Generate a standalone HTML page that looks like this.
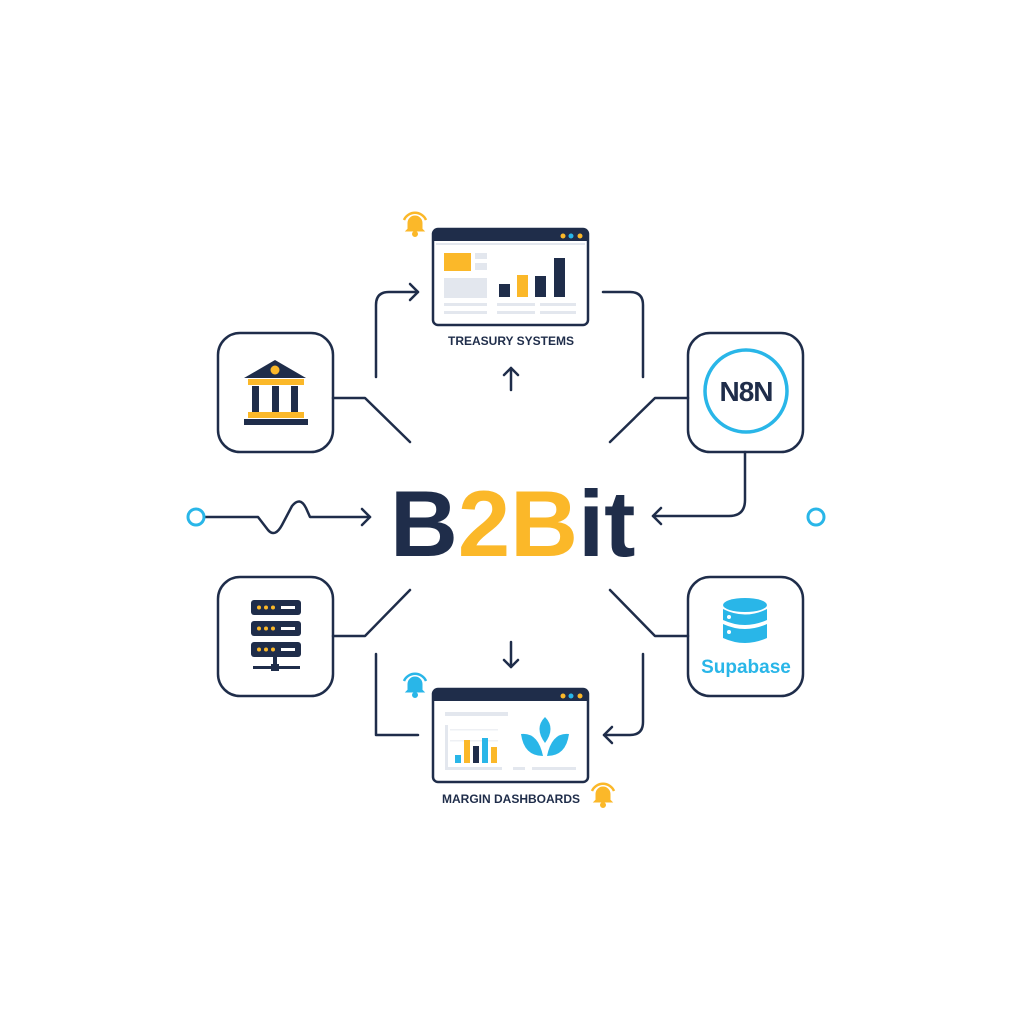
<!DOCTYPE html>
<html><head><meta charset="utf-8"><style>
html,body{margin:0;padding:0;background:#fff;}
svg{display:block;}
text{font-family:"Liberation Sans",sans-serif;}
</style></head><body>
<svg width="1024" height="1024" viewBox="0 0 1024 1024" xmlns="http://www.w3.org/2000/svg">
<rect width="1024" height="1024" fill="#fff"/>
<defs>
<g id="bell"><path d="M-7 5 L-7 -1 A7 7 0 0 1 7 -1 L7 5 L9 7 L-9 7 Z"/><circle cx="0" cy="10" r="2.5"/><path d="M-11 -4 A12 12 0 0 1 11 -4" fill="none" stroke-width="2.5"/></g>
</defs>
<g fill="none" stroke="#1f2d4a" stroke-width="2.5" stroke-linecap="round" stroke-linejoin="round">
<rect x="218" y="333" width="115" height="119" rx="22"/>
<rect x="218" y="577" width="115" height="119" rx="22"/>
<rect x="688" y="333" width="115" height="119" rx="22"/>
<rect x="688" y="577" width="115" height="119" rx="22"/>
<path d="M376 377 L376 305 Q376 292 389 292 L418 292"/><path d="M410 284 L418 292 L410 300"/>
<path d="M603 292 L630 292 Q643 292 643 305 L643 377"/>
<path d="M511 390 L511 368"/><path d="M504 375 L511 368 L518 375"/>
<path d="M333 398 L365 398 L410 442"/>
<path d="M688 398 L655 398 L610 442"/>
<path d="M745 452 L745 500 Q745 516 729 516 L653 516"/><path d="M661 508 L653 516 L661 524"/>
<path d="M204 517 L258 517 L268 530 Q275 538 282 525 L292 506 Q300 496 306 508 L310 517 L370 517"/><path d="M362 509 L370 517 L362 525"/>
<path d="M333 636 L365 636 L410 590"/>
<path d="M688 636 L655 636 L610 590"/>
<path d="M511 642 L511 667"/><path d="M504 660 L511 667 L518 660"/>
<path d="M376 654 L376 735 L418 735"/>
<path d="M643 654 L643 722 Q643 735 630 735 L604 735"/><path d="M612 727 L604 735 L612 743"/>
</g>
<circle cx="196" cy="517" r="8" fill="none" stroke="#29b6e8" stroke-width="3"/>
<circle cx="816" cy="517" r="8" fill="none" stroke="#29b6e8" stroke-width="3"/>
<g fill="#fbb829" stroke="#fbb829" transform="translate(415,224)"><use href="#bell"/></g>
<g fill="#29b6e8" stroke="#29b6e8" transform="translate(415,685)"><use href="#bell"/></g>
<g fill="#fbb829" stroke="#fbb829" transform="translate(603,795)"><use href="#bell"/></g>
<rect x="433" y="229" width="155" height="96" rx="5" fill="#fff" stroke="#1f2d4a" stroke-width="2.5"/>
<path d="M433 241 L433 234 Q433 229 438 229 L583 229 Q588 229 588 234 L588 241 Z" fill="#1f2d4a"/>
<circle cx="563" cy="236" r="2.5" fill="#fbb829"/><circle cx="571" cy="236" r="2.5" fill="#29b6e8"/><circle cx="580" cy="236" r="2.5" fill="#fbb829"/>
<rect x="436" y="243" width="149" height="2" fill="#e3e7ee"/>
<rect x="444" y="253" width="27" height="18" fill="#fbb829"/>
<rect x="475" y="253" width="12" height="6" fill="#e3e7ee"/><rect x="475" y="263" width="12" height="7" fill="#e3e7ee"/>
<rect x="444" y="278" width="43" height="20" fill="#e3e7ee"/>
<rect x="499" y="284" width="11" height="13" fill="#1f2d4a"/><rect x="517" y="275" width="11" height="22" fill="#fbb829"/>
<rect x="535" y="276" width="11" height="21" fill="#1f2d4a"/><rect x="554" y="258" width="11" height="39" fill="#1f2d4a"/>
<rect x="444" y="303" width="43" height="3" fill="#e3e7ee"/><rect x="444" y="311" width="43" height="3" fill="#e3e7ee"/>
<rect x="497" y="303" width="38" height="3" fill="#e3e7ee"/><rect x="497" y="311" width="38" height="3" fill="#e3e7ee"/>
<rect x="540" y="303" width="36" height="3" fill="#e3e7ee"/><rect x="540" y="311" width="36" height="3" fill="#e3e7ee"/>
<text x="511" y="345" text-anchor="middle" font-size="12" font-weight="bold" fill="#1f2d4a">TREASURY SYSTEMS</text>
<rect x="433" y="689" width="155" height="93" rx="5" fill="#fff" stroke="#1f2d4a" stroke-width="2.5"/>
<path d="M433 701 L433 694 Q433 689 438 689 L583 689 Q588 689 588 694 L588 701 Z" fill="#1f2d4a"/>
<circle cx="563" cy="696" r="2.5" fill="#fbb829"/><circle cx="571" cy="696" r="2.5" fill="#29b6e8"/><circle cx="580" cy="696" r="2.5" fill="#fbb829"/>
<rect x="445" y="712" width="63" height="4" fill="#e3e7ee"/>
<rect x="445" y="725" width="3" height="45" fill="#e3e7ee"/><rect x="445" y="767" width="57" height="3" fill="#e3e7ee"/>
<rect x="450" y="729" width="48" height="1.5" fill="#eef0f4"/><rect x="450" y="740" width="48" height="1.5" fill="#eef0f4"/>
<rect x="455" y="755" width="6" height="8" fill="#29b6e8"/><rect x="464" y="740" width="6" height="23" fill="#fbb829"/>
<rect x="473" y="746" width="6" height="17" fill="#1f2d4a"/><rect x="482" y="738" width="6" height="25" fill="#29b6e8"/>
<rect x="491" y="747" width="6" height="16" fill="#fbb829"/>
<rect x="513" y="767" width="12" height="3" fill="#e3e7ee"/><rect x="532" y="767" width="44" height="3" fill="#e3e7ee"/>
<g fill="#29b6e8">
<path d="M545 717 Q556 728 545 743 Q534 728 545 717Z"/>
<path d="M521 734 Q538 732 543 756 Q524 756 521 734Z"/>
<path d="M569 734 Q552 732 547 756 Q566 756 569 734Z"/>
</g>
<text x="511" y="803" text-anchor="middle" font-size="12" font-weight="bold" fill="#1f2d4a">MARGIN DASHBOARDS</text>
<path d="M244 378 L275 360 L306 378 Z" fill="#1f2d4a"/>
<circle cx="275" cy="370" r="4.5" fill="#fbb829"/>
<rect x="248" y="379" width="56" height="6" fill="#fbb829"/>
<rect x="252" y="386" width="7" height="26" fill="#1f2d4a"/><rect x="272" y="386" width="7" height="26" fill="#1f2d4a"/><rect x="291" y="386" width="7" height="26" fill="#1f2d4a"/>
<rect x="248" y="412" width="56" height="6" fill="#fbb829"/>
<rect x="244" y="419" width="64" height="6" fill="#1f2d4a"/>
<g fill="#1f2d4a">
<rect x="251" y="600" width="50" height="15" rx="3"/><rect x="251" y="621" width="50" height="15" rx="3"/><rect x="251" y="642" width="50" height="15" rx="3"/>
<rect x="273" y="657" width="4" height="12"/><rect x="253" y="666" width="47" height="3"/><rect x="271" y="664" width="8" height="7"/>
</g>
<g fill="#fbb829">
<circle cx="259" cy="607.5" r="2"/><circle cx="266" cy="607.5" r="2"/><circle cx="273" cy="607.5" r="2"/>
<circle cx="259" cy="628.5" r="2"/><circle cx="266" cy="628.5" r="2"/><circle cx="273" cy="628.5" r="2"/>
<circle cx="259" cy="649.5" r="2"/><circle cx="266" cy="649.5" r="2"/><circle cx="273" cy="649.5" r="2"/>
</g>
<g fill="#fff"><rect x="281" y="606" width="14" height="3"/><rect x="281" y="627" width="14" height="3"/><rect x="281" y="648" width="14" height="3"/></g>
<circle cx="746" cy="391" r="41" fill="none" stroke="#29b6e8" stroke-width="3.5"/>
<text x="746" y="401" text-anchor="middle" font-size="28" font-weight="bold" fill="#1f2d4a" letter-spacing="-1">N8N</text>
<g fill="#29b6e8">
<ellipse cx="745" cy="605" rx="22" ry="7"/>
<path d="M723 609 Q745 620 767 609 L767 620 Q745 630 723 620Z"/>
<path d="M723 624 Q745 634 767 624 L767 638 Q745 648 723 638Z"/>
</g>
<circle cx="729" cy="617" r="2" fill="#fff"/><circle cx="729" cy="632" r="2" fill="#fff"/>
<text x="746" y="673" text-anchor="middle" font-size="19" font-weight="bold" fill="#29b6e8">Supabase</text>
<text x="390" y="556" font-size="94" font-weight="bold" fill="#1f2d4a">B<tspan fill="#fbb829">2B</tspan>it</text>
</svg>
</body></html>
